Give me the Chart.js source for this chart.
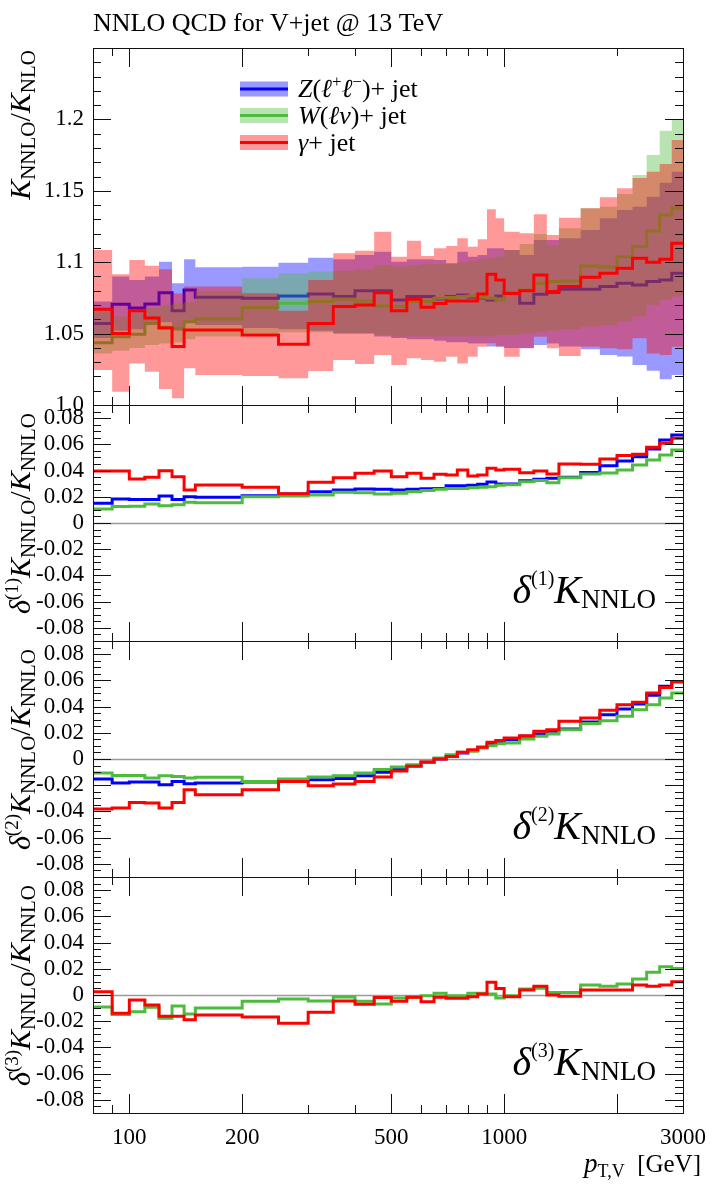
<!DOCTYPE html>
<html>
<head>
<meta charset="utf-8">
<script src="https://cdn.jsdelivr.net/npm/chart.js@4.4.0/dist/chart.umd.min.js"></script>
<style>
  body { margin: 0; background: #fff; width: 712px; height: 1187px; position: relative; overflow: hidden; }
  canvas { position: absolute; left: 0; top: 0; }
</style>
</head>
<body>
<canvas id="p0" width="712" height="1187"></canvas>
<canvas id="p1" width="712" height="1187"></canvas>
<canvas id="p2" width="712" height="1187"></canvas>
<canvas id="p3" width="712" height="1187"></canvas>
<script>
// bin edges in GeV
const edges = [80, 90, 100, 110, 120, 130, 140, 150, 200, 250, 300, 350, 400, 450, 500, 550, 600, 650, 700, 750,
  800, 850, 900, 950, 1000, 1100, 1200, 1300, 1400, 1600, 1800, 2000, 2200, 2400, 2600, 2800, 3000];

// K_NNLO / K_NLO, central values and uncertainty bands
const zCentral = [1.057, 1.0705, 1.068, 1.0707, 1.0786, 1.066, 1.0805, 1.0754, 1.0747, 1.0763, 1.0777, 1.0759, 1.080, 1.080,
  1.0735, 1.0759, 1.0759, 1.0742, 1.0759, 1.077, 1.0755, 1.075, 1.0735, 1.0763, 1.0787, 1.0712, 1.0775, 1.0787,
  1.081, 1.081, 1.0829, 1.0852, 1.084, 1.0864, 1.0875, 1.0922];
const zUp = [1.0724, 1.0899, 1.0875, 1.0899, 1.1004, 1.0852, 1.102, 1.0964, 1.0969, 1.0997, 1.1032, 1.102, 1.105, 1.1074,
  1.1004, 1.102, 1.102, 1.1015, 1.0992, 1.1074, 1.1039, 1.105, 1.1097, 1.1097, 1.1085, 1.105, 1.1155, 1.1155,
  1.1167, 1.1225, 1.1307, 1.1366, 1.1389, 1.1459, 1.1557, 1.1634];
const zLow = [1.047, 1.052, 1.053, 1.056, 1.058, 1.052, 1.058, 1.056, 1.054, 1.053, 1.052, 1.050, 1.050, 1.048,
  1.047, 1.046, 1.046, 1.045, 1.044, 1.044, 1.043, 1.043, 1.041, 1.041, 1.040, 1.040, 1.042, 1.043,
  1.041, 1.039, 1.035, 1.034, 1.028, 1.024, 1.018, 1.021];

const wCentral = [1.0436, 1.0478, 1.0495, 1.0572, 1.0544, 1.0537, 1.0583, 1.0602, 1.0682, 1.0712, 1.0724, 1.0742, 1.0728, 1.0693,
  1.0689, 1.0724, 1.0724, 1.0747, 1.0752, 1.0759, 1.0763, 1.0754, 1.0747, 1.0735, 1.0787, 1.0805, 1.0852, 1.0864,
  1.0868, 1.0973, 1.0966, 1.1039, 1.111, 1.1218, 1.133, 1.138];
const wUp = [1.066, 1.062, 1.065, 1.068, 1.070, 1.071, 1.072, 1.080, 1.0887, 1.0922, 1.0934, 1.094, 1.095, 1.098,
  1.097, 1.098, 1.099, 1.099, 1.099, 1.100, 1.101, 1.102, 1.103, 1.104, 1.1085, 1.1127, 1.1197, 1.112,
  1.1237, 1.1377, 1.1389, 1.1478, 1.161, 1.175, 1.1921, 1.1996];
const wLow = [1.036, 1.038, 1.040, 1.042, 1.043, 1.044, 1.046, 1.048, 1.050, 1.051, 1.051, 1.050, 1.050, 1.049,
  1.048, 1.048, 1.048, 1.048, 1.048, 1.048, 1.048, 1.048, 1.048, 1.049, 1.049, 1.050, 1.051, 1.052,
  1.053, 1.0548, 1.056, 1.0583, 1.0619, 1.0701, 1.0735, 1.0759];

const gCentral = [1.067, 1.050, 1.066, 1.061, 1.054, 1.041, 1.0525, 1.0525, 1.049, 1.0425, 1.057, 1.069, 1.070, 1.0786,
  1.066, 1.074, 1.0684, 1.071, 1.0728, 1.0728, 1.0728, 1.0777, 1.0915, 1.0875, 1.078, 1.080, 1.091, 1.0794,
  1.0829, 1.0894, 1.0922, 1.0957, 1.1027, 1.0999, 1.102, 1.1132];
const gUp = [1.1085, 1.0915, 1.1015, 1.0976, 1.095, 1.078, 1.0829, 1.0829, 1.0782, 1.066, 1.0875, 1.1062, 1.108, 1.1214,
  1.1039, 1.1151, 1.1043, 1.1097, 1.1113, 1.1167, 1.1109, 1.116, 1.137, 1.1307, 1.1214, 1.1202, 1.1335, 1.119,
  1.1312, 1.1377, 1.1454, 1.1517, 1.159, 1.1634, 1.1688, 1.1856];
const gLow = [1.0245, 1.0093, 1.029, 1.0233, 1.0112, 1.0047, 1.0257, 1.021, 1.0203, 1.0187, 1.0238, 1.0315, 1.0287, 1.035,
  1.028, 1.0327, 1.0315, 1.0303, 1.0338, 1.029, 1.0338, 1.0408, 1.0432, 1.0408, 1.0338, 1.0397, 1.0478, 1.0397,
  1.0343, 1.0408, 1.0397, 1.039, 1.0467, 1.036, 1.035, 1.0408];

// delta^(1) K_NNLO / K_NNLO
const d1Z = [0.015, 0.0183, 0.018, 0.018, 0.0206, 0.018, 0.0201, 0.0196, 0.0208, 0.0221, 0.0239, 0.0252, 0.0259, 0.0257,
  0.0252, 0.0257, 0.0262, 0.0264, 0.0285, 0.0285, 0.0287, 0.0295, 0.0313, 0.0297, 0.0297, 0.0323, 0.0333, 0.0341,
  0.0349, 0.0386, 0.0437, 0.0473, 0.0506, 0.0564, 0.0633, 0.0671];
const d1W = [0.0107, 0.0125, 0.0128, 0.0145, 0.0132, 0.014, 0.0158, 0.0155, 0.0201, 0.0206, 0.0214, 0.0234, 0.023, 0.0221,
  0.0227, 0.0239, 0.0247, 0.0257, 0.0264, 0.0264, 0.0269, 0.0272, 0.0277, 0.0287, 0.0292, 0.0315, 0.0325, 0.0307,
  0.0346, 0.0374, 0.0381, 0.0404, 0.0442, 0.048, 0.0519, 0.0557];
const d1G = [0.0397, 0.0397, 0.0336, 0.0349, 0.0399, 0.0353, 0.0252, 0.029, 0.0272, 0.0224, 0.031, 0.0346, 0.0379, 0.0397,
  0.0353, 0.0379, 0.0341, 0.0371, 0.0366, 0.0404, 0.0359, 0.0366, 0.0417, 0.0404, 0.041, 0.0384, 0.0397, 0.0374,
  0.045, 0.0448, 0.0488, 0.0514, 0.0524, 0.0577, 0.0608, 0.0646];

// delta^(2)
const d2Z = [-0.0153, -0.0183, -0.0175, -0.0175, -0.0196, -0.0171, -0.0188, -0.0183, -0.0175, -0.0165, -0.0158, -0.0148,
  -0.0127, -0.0102, -0.0081, -0.0051, -0.0025, 0, 0.002, 0.0046, 0.0064, 0.0089, 0.011, 0.013, 0.0147, 0.0173,
  0.019, 0.0211, 0.0229, 0.0282, 0.0338, 0.0381, 0.0419, 0.0486, 0.0554, 0.0592];
const d2W = [-0.0107, -0.0125, -0.0125, -0.0145, -0.0127, -0.0133, -0.0145, -0.014, -0.0171, -0.0153, -0.0138, -0.0127,
  -0.0107, -0.0081, -0.0061, -0.0043, -0.0025, 0.0008, 0.0033, 0.0051, 0.0059, 0.0084, 0.0102, 0.0117, 0.0122, 0.0153,
  0.0173, 0.019, 0.0224, 0.027, 0.0292, 0.0326, 0.0376, 0.0414, 0.0465, 0.0503];
const d2G = [-0.0381, -0.0374, -0.0331, -0.0336, -0.0374, -0.0331, -0.0234, -0.0272, -0.0234, -0.0171, -0.0204, -0.0191,
  -0.0171, -0.0138, -0.0092, -0.0056, -0.0023, 0, 0.002, 0.0051, 0.0071, 0.0089, 0.0127, 0.0142, 0.016, 0.0178,
  0.0211, 0.0224, 0.0287, 0.0313, 0.0371, 0.0414, 0.0432, 0.0503, 0.0546, 0.0587];

// delta^(3)  (Z and W coincide, only W visible)
const d3W = [-0.0092, -0.0148, -0.0127, -0.0094, -0.0178, -0.0084, -0.0145, -0.0099, -0.0048, -0.003, -0.0046, -0.0015,
  -0.0048, -0.0069, -0.0023, -0.0018, -0.0005, 0.0013, -0.0005, -0.0005, 0.0013, 0.0013, 0.0008, -0.0023, -0.0005, 0.0046,
  0.0051, 0.002, 0.002, 0.0076, 0.0066, 0.0084, 0.0122, 0.0173, 0.0216, 0.0203];
const d3G = [0.0025, -0.014, -0.0038, -0.0076, -0.0163, -0.0163, -0.0188, -0.0153, -0.0168, -0.0216, -0.0132, -0.0046,
  -0.0071, -0.002, -0.0048, -0.0018, -0.0051, -0.0018, -0.0025, -0.0025, -0.0013, 0.0008, 0.0097, 0.005, -0.0013, 0.0038,
  0.0066, 0, -0.001, 0.0038, 0.0038, 0.0038, 0.0076, 0.0066, 0.0076, 0.0102];

// axis ticks
const xMajorTicks = [100, 200, 500, 1000];
const xMinorTicks = [90, 300, 400, 600, 700, 800, 900, 2000];
const xTickLabels = [100, 200, 500, 1000, 3000];
const topTickLabels = [1.0, 1.05, 1.1, 1.15, 1.2];
const ratioTickLabels = [-0.08, -0.06, -0.04, -0.02, 0, 0.02, 0.04, 0.06, 0.08];

const SERIF = '"Liberation Serif", "DejaVu Serif", serif';
const BLUE = '#0000ff', GREEN = '#4dbb3d', RED = '#ff0000';
const BLUE_BAND = 'rgba(0,0,255,0.4)', GREEN_BAND = 'rgba(77,187,61,0.4)', RED_BAND = 'rgba(255,0,0,0.4)';

// panel boxes (page pixels)
const panels = [{ top: 48, bottom: 405 }, { top: 405, bottom: 641 }, { top: 641, bottom: 877 }, { top: 877, bottom: 1113 }];
const PLOT_LEFT = 93, PLOT_RIGHT = 683;

function steps(vals) {
  const pts = [];
  vals.forEach((v, i) => {
    pts.push({ x: edges[i], y: v });
    pts.push({ x: edges[i + 1], y: v });
  });
  return pts;
}

function lineSet(vals, color, order) {
  return { data: steps(vals), borderColor: color, borderWidth: 3, fill: false, order: order,
    borderJoinStyle: 'miter', borderCapStyle: 'butt', pointRadius: 0 };
}

function bandSets(up, low, color, order) {
  return [
    { data: steps(up), borderWidth: 0, borderColor: 'rgba(0,0,0,0)', backgroundColor: color, fill: '+1', order: order, pointRadius: 0 },
    { data: steps(low), borderWidth: 0, borderColor: 'rgba(0,0,0,0)', fill: false, order: order, pointRadius: 0 }
  ];
}

// draw a sequence of text pieces with their own fonts and baseline shifts
function textRuns(ctx, parts, x, y, align) {
  let w = 0;
  parts.forEach(p => { ctx.font = p.f; w += ctx.measureText(p.t).width; });
  let cx = align === 'right' ? x - w : align === 'center' ? x - w / 2 : x;
  parts.forEach(p => {
    ctx.font = p.f;
    ctx.fillText(p.t, cx, y + (p.dy || 0));
    cx += ctx.measureText(p.t).width;
  });
}

function vText(ctx, parts, x, yEnd) {
  ctx.save();
  ctx.translate(x, yEnd);
  ctx.rotate(-Math.PI / 2);
  textRuns(ctx, parts, 0, 0, 'right');
  ctx.restore();
}

function fmt(v) {
  return v === 0 ? '0' : String(v);
}

function framePlugin(cfg) {
  return {
    id: 'frame',
    beforeDatasetsDraw(chart) {
      if (!cfg.zero) return;
      const { ctx, chartArea: a, scales: { y } } = chart;
      const py = Math.round(y.getPixelForValue(0)) + 0.5;
      ctx.save();
      ctx.strokeStyle = '#9a9a9a';
      ctx.lineWidth = 1.5;
      ctx.beginPath();
      ctx.moveTo(a.left, py);
      ctx.lineTo(a.right, py);
      ctx.stroke();
      ctx.restore();
    },
    afterDraw(chart) {
      const { ctx, chartArea: a, scales: { x, y } } = chart;
      ctx.save();
      ctx.strokeStyle = '#111';
      ctx.lineWidth = 1;
      ctx.strokeRect(a.left + 0.5, a.top + 0.5, a.right - a.left, a.bottom - a.top);

      ctx.beginPath();
      const xt = (v, topLen, botLen) => {
        const px = Math.round(x.getPixelForValue(v)) + 0.5;
        ctx.moveTo(px, a.top); ctx.lineTo(px, a.top + topLen);
        ctx.moveTo(px, a.bottom); ctx.lineTo(px, a.bottom - botLen);
      };
      xMajorTicks.forEach(v => xt(v, 19, 19));
      xMinorTicks.forEach(v => xt(v, 8, (cfg.last && v === 2000) ? 19 : 8));

      const yt = (v, len) => {
        const py = Math.round(y.getPixelForValue(v)) + 0.5;
        ctx.moveTo(a.left, py); ctx.lineTo(a.left + len, py);
        ctx.moveTo(a.right, py); ctx.lineTo(a.right - len, py);
      };
      for (let k = cfg.minorFrom; k <= cfg.minorTo; k++) {
        const v = k * cfg.minorStep;
        if (Math.abs(k % cfg.majorEvery) === 0) yt(v, 18); else yt(v, 8);
      }
      ctx.stroke();

      ctx.fillStyle = '#000';
      ctx.font = '23px ' + SERIF;
      ctx.textAlign = 'right';
      ctx.textBaseline = 'middle';
      cfg.labels.forEach(v => ctx.fillText(cfg.labelText(v), 84, y.getPixelForValue(v)));

      if (cfg.last) {
        ctx.textAlign = 'center';
        xTickLabels.forEach(v => ctx.fillText(String(v), x.getPixelForValue(v), 1138));
      }
      ctx.textAlign = 'left';
      ctx.textBaseline = 'alphabetic';
      cfg.extra(ctx, chart);
      ctx.restore();
    }
  };
}

function makeChart(id, panel, datasets, yMin, yMax, cfg) {
  return new Chart(document.getElementById(id), {
    type: 'line',
    data: { datasets: datasets },
    options: {
      responsive: false,
      animation: false,
      devicePixelRatio: 1,
      layout: { padding: { left: PLOT_LEFT, right: 712 - PLOT_RIGHT, top: panel.top, bottom: 1187 - panel.bottom } },
      plugins: { legend: { display: false }, tooltip: { enabled: false } },
      scales: {
        x: { type: 'logarithmic', min: 80, max: 3000, display: false },
        y: { type: 'linear', min: yMin, max: yMax, display: false }
      },
      elements: { line: { tension: 0 }, point: { radius: 0 } }
    },
    plugins: [framePlugin(cfg)]
  });
}

function deltaLabel(n) {
  return [
    { t: 'δ', f: 'italic 40px ' + SERIF },
    { t: '(' + n + ')', f: '20px ' + SERIF, dy: -18 },
    { t: 'K', f: 'italic 40px ' + SERIF },
    { t: 'NNLO', f: '27px ' + SERIF, dy: 5 }
  ];
}

function deltaAxis(n) {
  return [
    { t: 'δ', f: 'italic 30px ' + SERIF },
    { t: '(' + n + ')', f: '19px ' + SERIF, dy: -12 },
    { t: 'K', f: 'italic 30px ' + SERIF },
    { t: 'NNLO', f: '21px ' + SERIF, dy: 5 },
    { t: '/', f: '30px ' + SERIF },
    { t: 'K', f: 'italic 30px ' + SERIF },
    { t: 'NNLO', f: '21px ' + SERIF, dy: 5 }
  ];
}

// top panel: K factor ratio with bands
makeChart('p0', panels[0], [
  ...bandSets(zUp, zLow, BLUE_BAND, 6), lineSet(zCentral, BLUE, 5),
  ...bandSets(wUp, wLow, GREEN_BAND, 4), lineSet(wCentral, GREEN, 3),
  ...bandSets(gUp, gLow, RED_BAND, 2), lineSet(gCentral, RED, 1)
], 1.0, 1.25, {
  zero: false, last: false,
  minorFrom: 101, minorTo: 124, minorStep: 0.01, majorEvery: 5,
  labels: topTickLabels,
  labelText: v => (v === 1 ? '1.0' : String(v)),
  extra(ctx) {
    ctx.font = '26px ' + SERIF;
    ctx.fillText('NNLO QCD for V+jet @ 13 TeV', 93, 31);
    vText(ctx, [
      { t: 'K', f: 'italic 30px ' + SERIF },
      { t: 'NNLO', f: '21px ' + SERIF, dy: 5 },
      { t: '/', f: '30px ' + SERIF },
      { t: 'K', f: 'italic 30px ' + SERIF },
      { t: 'NLO', f: '21px ' + SERIF, dy: 5 }
    ], 30, 50);
    const rows = [
      { c: 89, band: BLUE_BAND, line: BLUE, parts: [
        { t: 'Z', f: 'italic 26px ' + SERIF }, { t: '(', f: '26px ' + SERIF },
        { t: 'ℓ', f: 'italic 26px ' + SERIF }, { t: '+', f: '17px ' + SERIF, dy: -10 },
        { t: 'ℓ', f: 'italic 26px ' + SERIF }, { t: '−', f: '17px ' + SERIF, dy: -10 },
        { t: ')+ jet', f: '26px ' + SERIF }] },
      { c: 115.5, band: GREEN_BAND, line: GREEN, parts: [
        { t: 'W', f: 'italic 26px ' + SERIF }, { t: '(', f: '26px ' + SERIF },
        { t: 'ℓν', f: 'italic 26px ' + SERIF }, { t: ')+ jet', f: '26px ' + SERIF }] },
      { c: 142.5, band: RED_BAND, line: RED, parts: [
        { t: 'γ', f: 'italic 26px ' + SERIF }, { t: '+ jet', f: '26px ' + SERIF }] }
    ];
    rows.forEach(r => {
      ctx.fillStyle = r.band;
      ctx.fillRect(240, r.c - 7.5, 48, 15);
      ctx.strokeStyle = r.line;
      ctx.lineWidth = 3;
      ctx.beginPath();
      ctx.moveTo(240, r.c);
      ctx.lineTo(288, r.c);
      ctx.stroke();
      ctx.fillStyle = '#000';
      textRuns(ctx, r.parts, 298, r.c + 8, 'left');
    });
  }
});

const ratioCfg = (n, last, extraFn) => ({
  zero: true, last: last,
  minorFrom: -17, minorTo: 17, minorStep: 0.005, majorEvery: 4,
  labels: ratioTickLabels,
  labelText: fmt,
  extra(ctx, chart) {
    const a = chart.chartArea;
    vText(ctx, deltaAxis(n), 30, a.top + 8);
    textRuns(ctx, deltaLabel(n), 656, a.top + 198, 'right');
    if (extraFn) extraFn(ctx);
  }
});

makeChart('p1', panels[1], [lineSet(d1Z, BLUE, 3), lineSet(d1W, GREEN, 2), lineSet(d1G, RED, 1)], -0.09, 0.09, ratioCfg(1, false));
makeChart('p2', panels[2], [lineSet(d2Z, BLUE, 3), lineSet(d2W, GREEN, 2), lineSet(d2G, RED, 1)], -0.09, 0.09, ratioCfg(2, false));
makeChart('p3', panels[3], [lineSet(d3W, GREEN, 2), lineSet(d3G, RED, 1)], -0.09, 0.09, ratioCfg(3, true, ctx => {
  textRuns(ctx, [
    { t: 'p', f: 'italic 27px ' + SERIF },
    { t: 'T,V', f: '18px ' + SERIF, dy: 5 },
    { t: '  [GeV]', f: '25px ' + SERIF }
  ], 701, 1172, 'right');
}));
</script>
</body>
</html>
